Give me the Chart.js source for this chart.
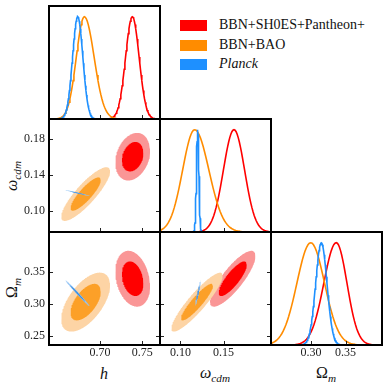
<!DOCTYPE html>
<html>
<head>
<meta charset="utf-8">
<script src="https://cdn.jsdelivr.net/npm/chart.js@4.4.0/dist/chart.umd.min.js"></script>
<style>
  body { margin: 0; background: #fff; width: 388px; height: 389px; position: relative; overflow: hidden;
         font-family: "Liberation Serif", "Times New Roman", serif; color: #111; }
  canvas { position: absolute; }
  .ttl { position: absolute; font-size: 16px; white-space: nowrap; transform: translate(-50%, -50%); }
  .rot { transform: translate(-50%, -50%) rotate(-90deg); }
  .ttl sub { font-size: 70%; vertical-align: -0.3em; }
  .sw { position: absolute; left: 180px; width: 27px; height: 11px; }
  .lg { position: absolute; left: 219px; font-size: 14px; line-height: 16px; white-space: nowrap; }
</style>
</head>
<body>
<div class="sw" style="top:20px;background:#ff0000"></div>
<div class="lg" style="top:17px">BBN+SH0ES+Pantheon+</div>
<div class="sw" style="top:40px;background:#ff8c00"></div>
<div class="lg" style="top:37px">BBN+BAO</div>
<div class="sw" style="top:59px;background:#1e90ff"></div>
<div class="lg" style="top:56px"><i>Planck</i></div>

<div class="ttl" style="left:104px;top:374px"><i>h</i></div>
<div class="ttl" style="left:215px;top:374px"><i>ω<sub>cdm</sub></i></div>
<div class="ttl" style="left:326px;top:374px">Ω<sub><i>m</i></sub></div>
<div class="ttl rot" style="left:13px;top:176px"><i>ω<sub>cdm</sub></i></div>
<div class="ttl rot" style="left:13px;top:288px">Ω<sub><i>m</i></sub></div>

<script>
// runs: red, orange, blue
const setNames = ["BBN+SH0ES+Pantheon+", "BBN+BAO", "Planck"];
const lineColors = ["#ff0000", "#ff8c00", "#1e90ff"];
const outerFill = ["rgb(250,150,150)", "rgb(253,212,165)", "rgb(150,198,245)"];
const innerFill = ["rgb(255,0,0)", "rgb(252,160,40)", "rgb(45,135,225)"];

// 1D marginals: peak and left/right widths
const hPeak = [0.7382, 0.6815, 0.6736];
const hSigLo = [0.0080, 0.0095, 0.0061];
const hSigHi = [0.0080, 0.0115, 0.0061];
const wPeak = [0.1622, 0.1165, 0.1200];
const wSigLo = [0.0123, 0.0140, 0.0014];
const wSigHi = [0.0123, 0.0165, 0.0014];
const omPeak = [0.3366, 0.2996, 0.3149];
const omSigLo = [0.0180, 0.0200, 0.0082];
const omSigHi = [0.0155, 0.0200, 0.0082];

// 2D contours: centres, widths, correlations
const hCen = [0.7386, 0.6830, 0.6736];
const hSig = [0.0084, 0.0118, 0.0059];
const wCen = [0.1607, 0.1192, 0.1203];
const wSig = [0.0108, 0.0122, 0.00135];
const omCen = [0.3390, 0.3025, 0.3162];
const omSig = [0.0178, 0.0188, 0.0084];
const rhoHW = [0.25, 0.85, -0.985];
const rhoHOm = [-0.25, 0.58, -0.993];
const rhoWOm = [0.82, 0.90, 0.975];
const levels = [2.45, 1.52]; // 95% and 68% radii

// axes
const hRange = [0.6397, 0.7709];
const hTicks = [0.70, 0.75];
const wRangeX = [0.0762, 0.2052];
const wTicksX = [0.10, 0.15];
const wRangeY = [0.077, 0.2026];
const wTicksY = [0.10, 0.14, 0.18];
const omRangeX = [0.242, 0.4029];
const omTicksX = [0.30, 0.35];
const omRangeY = [0.2355, 0.412];
const omTicksY = [0.25, 0.30, 0.35];
const peakTop = 1.105;

const FONT = "'Liberation Serif', 'Times New Roman', serif";
const PAD = 3, LEFT = 49, BOTTOM = 44;
const colX = [49, 160, 271], rowY = [6, 119, 232], PW = 111, PH = 113;

function curve1D(peak, lo, hi, range) {
  const pts = [{ x: range[0], y: 0 }];
  for (let k = -60; k <= 60; k++) {
    const s = k < 0 ? lo : hi;
    const x = peak + s * k / 10;
    if (x > range[0] && x < range[1]) pts.push({ x: x, y: Math.exp(-0.5 * (k / 10) * (k / 10)) });
  }
  pts.push({ x: range[1], y: 0 });
  return pts;
}

function halfEllipse(cx, sx, cy, sy, rho, r, sign) {
  const pts = [];
  for (let i = 0; i <= 120; i++) {
    const t = Math.PI * (1 - i / 120);
    pts.push({
      x: cx + r * sx * Math.cos(t),
      y: cy + r * sy * (rho * Math.cos(t) + sign * Math.sqrt(1 - rho * rho) * Math.sin(t))
    });
  }
  return pts;
}

const frame = {
  id: "frame",
  afterDraw(chart, args, opts) {
    const { ctx, chartArea: a, scales } = chart;
    ctx.save();
    ctx.strokeStyle = "#222";
    ctx.lineWidth = 1;
    ctx.beginPath();
    scales.x.ticks.forEach(t => {
      const p = Math.round(scales.x.getPixelForValue(t.value)) + 0.5;
      ctx.moveTo(p, a.bottom); ctx.lineTo(p, a.bottom - 4);
    });
    if (opts.yTicks) scales.y.ticks.forEach(t => {
      const p = Math.round(scales.y.getPixelForValue(t.value)) + 0.5;
      ctx.moveTo(a.left, p); ctx.lineTo(a.left + 4, p);
      ctx.moveTo(a.right, p); ctx.lineTo(a.right - 4, p);
    });
    ctx.stroke();
    ctx.lineWidth = 2;
    ctx.strokeStyle = "#000";
    ctx.strokeRect(a.left, a.top, a.width, a.height);
    ctx.restore();
  }
};

function axis(range, ticks, showLabels, isX) {
  return {
    type: "linear",
    min: range[0], max: range[1],
    bounds: "data",
    grid: { display: false, drawTicks: false },
    border: { display: false },
    ticks: {
      display: showLabels,
      padding: isX ? 1 : 4,
      color: "#222",
      font: { family: FONT, size: 12 },
      callback: v => v.toFixed(2)
    },
    afterBuildTicks: s => { s.ticks = ticks.map(v => ({ value: v })); },
    afterFit: s => {
      if (isX) s.height = BOTTOM; else s.width = LEFT;
      s.paddingLeft = 0; s.paddingRight = 0; s.paddingTop = 0; s.paddingBottom = 0;
    }
  };
}

function makeChart(row, col, datasets, xs, ys, yTicks) {
  const cv = document.createElement("canvas");
  cv.width = PW + LEFT + 2 * PAD;
  cv.height = PH + BOTTOM + 2 * PAD;
  cv.style.left = (colX[col] - LEFT - PAD) + "px";
  cv.style.top = (rowY[row] - PAD) + "px";
  document.body.appendChild(cv);
  new Chart(cv, {
    type: "line",
    data: { datasets: datasets },
    options: {
      responsive: false,
      animation: false,
      devicePixelRatio: 1,
      events: [],
      layout: { padding: PAD },
      elements: { point: { radius: 0 }, line: { tension: 0 } },
      plugins: { legend: { display: false }, tooltip: { enabled: false }, frame: { yTicks: yTicks } },
      scales: { x: xs, y: ys }
    },
    plugins: [frame]
  });
}

function marginalSets(peak, lo, hi, range) {
  return [0, 1, 2].map(i => ({
    label: setNames[i],
    data: curve1D(peak[i], lo[i], hi[i], range),
    borderColor: lineColors[i],
    borderWidth: 1.6,
    fill: false,
    order: 3 - i
  }));
}

function contourSets(xc, xsg, yc, ysg, rho) {
  const out = [];
  let n = 100;
  [0, 1, 2].forEach(i => {
    levels.forEach((r, li) => {
      out.push({
        label: setNames[i],
        data: halfEllipse(xc[i], xsg[i], yc[i], ysg[i], rho[i], r, -1),
        borderColor: "rgba(0,0,0,0)", borderWidth: 0, fill: false, order: n--
      });
      out.push({
        label: setNames[i],
        data: halfEllipse(xc[i], xsg[i], yc[i], ysg[i], rho[i], r, 1),
        borderColor: "rgba(0,0,0,0)", borderWidth: 0,
        backgroundColor: li === 0 ? outerFill[i] : innerFill[i],
        fill: "-1", order: n--
      });
    });
  });
  return out;
}

const yPdf = [0, peakTop];

// diagonal
makeChart(0, 0, marginalSets(hPeak, hSigLo, hSigHi, hRange),
  axis(hRange, hTicks, false, true), axis(yPdf, [], false, false), false);
makeChart(1, 1, marginalSets(wPeak, wSigLo, wSigHi, wRangeX),
  axis(wRangeX, wTicksX, false, true), axis(yPdf, [], false, false), false);
makeChart(2, 2, marginalSets(omPeak, omSigLo, omSigHi, omRangeX),
  axis(omRangeX, omTicksX, true, true), axis(yPdf, [], false, false), false);

// off-diagonal
makeChart(1, 0, contourSets(hCen, hSig, wCen, wSig, rhoHW),
  axis(hRange, hTicks, false, true), axis(wRangeY, wTicksY, true, false), true);
makeChart(2, 0, contourSets(hCen, hSig, omCen, omSig, rhoHOm),
  axis(hRange, hTicks, true, true), axis(omRangeY, omTicksY, true, false), true);
makeChart(2, 1, contourSets(wCen, wSig, omCen, omSig, rhoWOm),
  axis(wRangeX, wTicksX, true, true), axis(omRangeY, omTicksY, false, false), true);
</script>
</body>
</html>
